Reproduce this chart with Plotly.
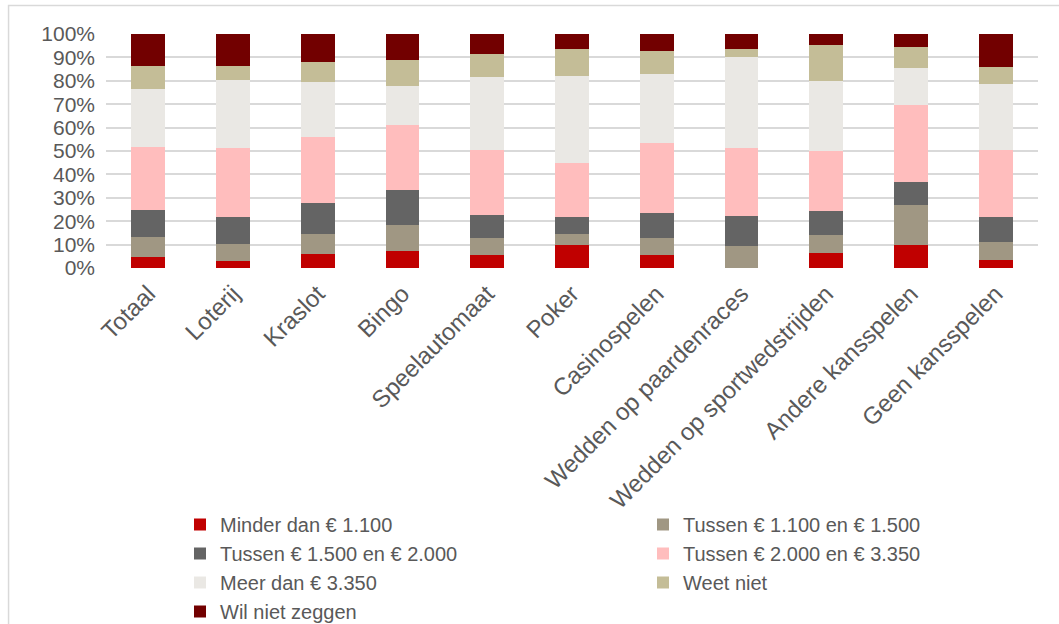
import plotly.graph_objects as go

categories = ["Totaal", "Loterij", "Kraslot", "Bingo", "Speelautomaat", "Poker",
              "Casinospelen", "Wedden op paardenraces", "Wedden op sportwedstrijden",
              "Andere kansspelen", "Geen kansspelen"]

minder_1100 = [4.8, 2.8, 6.1, 7.4, 5.4, 9.7, 5.7, 0.0, 6.5, 10.0, 3.4]
tussen_1100_1500 = [8.6, 7.6, 8.6, 11.1, 7.4, 4.7, 7.2, 9.5, 7.4, 17.0, 7.8]
tussen_1500_2000 = [11.4, 11.2, 12.9, 14.9, 10.0, 7.4, 10.6, 12.8, 10.3, 9.8, 10.6]
tussen_2000_3350 = [27.0, 29.8, 28.4, 27.9, 27.7, 23.2, 30.0, 29.1, 26.0, 32.9, 28.8]
meer_3350 = [24.6, 29.1, 23.5, 16.5, 31.2, 37.1, 29.4, 38.9, 29.7, 15.6, 28.1]
weet_niet = [9.8, 6.0, 8.6, 11.1, 9.8, 11.4, 10.0, 3.2, 15.5, 9.2, 7.1]
wil_niet = [13.8, 13.5, 11.9, 11.1, 8.5, 6.5, 7.1, 6.5, 4.6, 5.5, 14.2]

series_names = ["Minder dan € 1.100", "Tussen € 1.100 en € 1.500",
                "Tussen € 1.500 en € 2.000", "Tussen € 2.000 en € 3.350",
                "Meer dan € 3.350", "Weet niet", "Wil niet zeggen"]
series_values = [minder_1100, tussen_1100_1500, tussen_1500_2000, tussen_2000_3350,
                 meer_3350, weet_niet, wil_niet]
colors = ["#C00000", "#A09783", "#646464", "#FFBDBD", "#EAE8E4", "#C4BD97", "#720000"]
legend_column = ["legend", "legend2", "legend", "legend2", "legend", "legend2", "legend"]

tick_vals = list(range(0, 101, 10))
tick_text = [f"{v}%" for v in tick_vals]

fig = go.Figure()
for name, vals, col, lg in zip(series_names, series_values, colors, legend_column):
    fig.add_trace(go.Bar(x=categories, y=vals, name=name, marker_color=col,
                         marker_line_width=0, legend=lg))

font_family = "Liberation Sans, Arial, sans-serif"
text_color = "#595959"

W, H = 1059, 624
plot_l, plot_r, plot_t, plot_b = 106, 1038.5, 34, 268
legend_top = 505

legend_common = dict(orientation="v", traceorder="normal",
                     xref="container", yref="container",
                     xanchor="left", yanchor="top", y=1 - legend_top / H,
                     font=dict(size=20, color=text_color),
                     bgcolor="rgba(0,0,0,0)", itemclick=False)

fig.update_layout(
    barmode="stack",
    bargap=0.6,
    width=W, height=H,
    margin=dict(l=plot_l, r=W - plot_r, t=plot_t, b=H - plot_b, autoexpand=False),
    paper_bgcolor="white", plot_bgcolor="white",
    font=dict(family=font_family, size=20, color=text_color),
    showlegend=True,
    legend=dict(legend_common, x=180 / W),
    legend2=dict(legend_common, x=643 / W),
    xaxis=dict(tickangle=-45, showgrid=False, showline=False, ticks="",
               automargin=False, ticklabelstandoff=6,
               tickfont=dict(size=24, color=text_color)),
    yaxis=dict(range=[0, 100], tickvals=tick_vals, ticktext=tick_text,
               showgrid=True, gridcolor="#D9D9D9", gridwidth=1.5,
               zeroline=False, showline=False, ticks="", automargin=False,
               ticklabelstandoff=10,
               tickfont=dict(size=21, color=text_color)),
    shapes=[dict(type="rect", xref="paper", yref="paper",
                 x0=(8.5 - plot_l) / (plot_r - plot_l), x1=(1070 - plot_l) / (plot_r - plot_l),
                 y0=(plot_b - 640) / (plot_b - plot_t), y1=(plot_b - 5.5) / (plot_b - plot_t),
                 line=dict(color="#D9D9D9", width=1.5), fillcolor="rgba(0,0,0,0)",
                 layer="below")],
)

fig.write_html("out.html", config={"displayModeBar": False},
               post_script="document.body.style.margin='0';")
